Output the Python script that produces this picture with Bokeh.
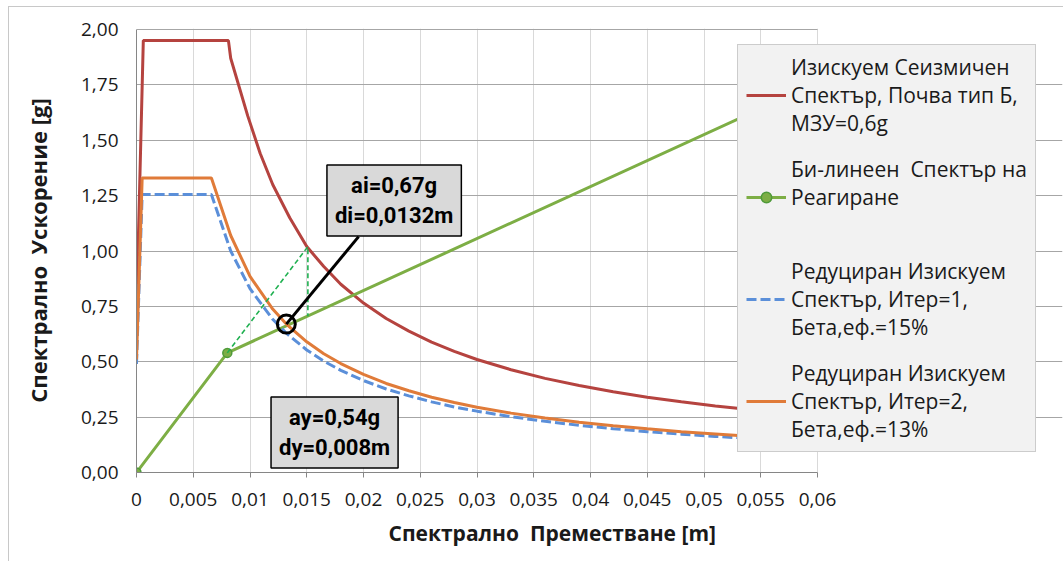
from bokeh.plotting import figure
from bokeh.models import Range1d, FixedTicker, Legend, LegendItem, Label, Title
from bokeh.embed import file_html
from bokeh.resources import INLINE

# ---- data ----
d_red = [0.0, 0.0006, 0.0081, 0.0083, 0.0098, 0.0109, 0.012, 0.0135, 0.015, 0.0165, 0.018, 0.020,
         0.022, 0.024, 0.026, 0.028, 0.030, 0.033, 0.036, 0.039, 0.042, 0.045, 0.048, 0.051, 0.054,
         0.057, 0.060]
a_red = [0.72, 1.95, 1.95, 1.87, 1.61, 1.44, 1.30, 1.15, 1.02, 0.93, 0.85, 0.765,
         0.695, 0.638, 0.589, 0.547, 0.510, 0.464, 0.425, 0.393, 0.365, 0.340, 0.319, 0.300, 0.284,
         0.269, 0.255]

d_bilin = [0.0, 0.008, 0.060]
a_bilin = [0.0, 0.54, 1.76]

d_red1 = [0.0, 0.0005, 0.0066, 0.0083, 0.010, 0.012, 0.0132, 0.015, 0.0165, 0.018, 0.020, 0.022,
          0.024, 0.026, 0.028, 0.030, 0.033, 0.036, 0.039, 0.042, 0.045, 0.048, 0.051, 0.054,
          0.057, 0.060]
a_red1 = [0.49, 1.255, 1.255, 1.00, 0.83, 0.692, 0.629, 0.553, 0.503, 0.461, 0.415, 0.377,
          0.346, 0.319, 0.296, 0.277, 0.252, 0.231, 0.213, 0.198, 0.184, 0.173, 0.163, 0.154,
          0.146, 0.138]

d_red2 = [0.0, 0.0005, 0.0066, 0.0083, 0.010, 0.012, 0.0132, 0.015, 0.0165, 0.018, 0.020, 0.022,
          0.024, 0.026, 0.028, 0.030, 0.033, 0.036, 0.039, 0.042, 0.045, 0.048, 0.051, 0.054,
          0.057, 0.060]
a_red2 = [0.51, 1.33, 1.33, 1.07, 0.885, 0.738, 0.67, 0.59, 0.536, 0.492, 0.443, 0.402,
          0.369, 0.340, 0.316, 0.295, 0.268, 0.246, 0.227, 0.211, 0.197, 0.184, 0.174, 0.164,
          0.155, 0.148]

# construction lines (elastic extension and vertical drop)
d_constr = [0.008, 0.0151, 0.0151]
a_constr = [0.54, 1.02, 0.705]

# yield and performance points
dy, ay = 0.008, 0.54
di, ai = 0.0132, 0.67

x_ticks = [0, 0.005, 0.01, 0.015, 0.02, 0.025, 0.03, 0.035, 0.04, 0.045, 0.05, 0.055, 0.06]
x_tick_labels = ["0", "0,005", "0,01", "0,015", "0,02", "0,025", "0,03", "0,035", "0,04",
                 "0,045", "0,05", "0,055", "0,06"]
y_ticks = [0, 0.25, 0.5, 0.75, 1.0, 1.25, 1.5, 1.75, 2.0]
y_tick_labels = ["0,00", "0,25", "0,50", "0,75", "1,00", "1,25", "1,50", "1,75", "2,00"]

series_labels = [
    "Изискуем Сеизмичен\nСпектър, Почва тип Б,\nМЗУ=0,6g",
    "Би-линеен\u00a0 Спектър на\nРеагиране\n\u00a0",
    "Редуциран Изискуем\nСпектър, Итер=1,\nБета,еф.=15%",
    "Редуциран Изискуем\nСпектър, Итер=2,\nБета,еф.=13%",
]
x_title = "Спектрално\u00a0 Преместване [m]"
y_title = "Спектрално\u00a0 Ускорение [g]"

FONT = "Open Sans"

# ---- layout (pixels) ----
OFF_X, OFF_Y = 9, 7                 # canvas offset caused by the outer border
W, H = 1064 - OFF_X, 562 - OFF_Y
FR_L, FR_R, FR_T, FR_B = 136, 1062, 28, 472   # frame in page pixels
X_AXIS_END_PX = 817                 # page x of the last x tick
Y_TOP_PX = 29                       # page y of the last y tick

x_end = x_ticks[-1] * (FR_R - FR_L) / (X_AXIS_END_PX - FR_L)
y_end = y_ticks[-1] * (FR_B - FR_T) / (FR_B - Y_TOP_PX)

p = figure(width=W, height=H, output_backend="svg", toolbar_location=None,
           x_range=Range1d(0, x_end), y_range=Range1d(0, y_end),
           min_border_left=FR_L - OFF_X, min_border_right=W - (FR_R - OFF_X),
           min_border_top=FR_T - OFF_Y, min_border_bottom=H - (FR_B - OFF_Y))
p.styles = {"margin-left": "8px", "margin-top": "6px",
            "border-left": "1px solid #c8c8c8", "border-top": "1px solid #c8c8c8"}
p.outline_line_color = None
p.background_fill_color = "white"
p.border_fill_color = "white"

# grids
p.xgrid.ticker = FixedTicker(ticks=x_ticks)
p.ygrid.ticker = FixedTicker(ticks=y_ticks[1:-1])
p.xgrid.grid_line_color = "#d9d9d9"
p.ygrid.grid_line_color = "#a6a6a6"
p.segment(x0=[x_ticks[0]], y0=[y_ticks[-1]], x1=[x_ticks[-1]], y1=[y_ticks[-1]],
          line_color="#a6a6a6", line_width=1)

# axes
p.xaxis.ticker = FixedTicker(ticks=x_ticks)
p.yaxis.ticker = FixedTicker(ticks=y_ticks)
p.xaxis.bounds = (x_ticks[0], x_ticks[-1])
p.yaxis.bounds = (y_ticks[0], y_ticks[-1])
p.xaxis.major_label_overrides = dict(zip(x_ticks, x_tick_labels))
p.yaxis.major_label_overrides = dict(zip(y_ticks, y_tick_labels))
for ax in (p.xaxis, p.yaxis):
    ax.axis_line_color = "#868686"
    ax.major_tick_line_color = "#868686"
    ax.minor_tick_line_color = None
    ax.major_label_text_font = FONT
    ax.major_label_text_font_size = "19px"
    ax.major_label_text_color = "#1a1a1a"
    ax.axis_label_text_font = FONT
    ax.axis_label_text_font_style = "bold"
    ax.axis_label_text_font_size = "22px"
    ax.axis_label_text_color = "#1a1a1a"
p.xaxis.major_tick_in = 0
p.xaxis.major_tick_out = 5
p.yaxis.major_tick_in = 0
p.yaxis.major_tick_out = 0
p.xaxis.major_label_standoff = 15
p.yaxis.major_label_standoff = 18
p.yaxis.axis_label = y_title
p.yaxis.axis_label_standoff = 25

p.add_layout(Title(text=x_title, align="left", offset=388 - FR_L, text_font=FONT,
                   text_font_style="bold", text_font_size="21px", text_color="#1a1a1a",
                   standoff=16), "below")

# series
r_red = p.line(d_red, a_red, line_color="#b5433f", line_width=3)
r_green = p.line(d_bilin, a_bilin, line_color="#7dae45", line_width=3)
r_green_pts = p.scatter(d_bilin, a_bilin, size=9, fill_color="#7dae45", line_color="#4f9a3a",
                        line_width=1.5)
r_blue = p.line(d_red1, a_red1, line_color="#5b8fd9", line_width=3, line_dash="10 4")
r_orange = p.line(d_red2, a_red2, line_color="#e07b39", line_width=3)

# construction lines
p.line(d_constr, a_constr, line_color="#1fb050", line_width=1.6, line_dash="5 3")

# performance point and leader
p.line([di, 0.01957], [ai, 1.065], line_color="black", line_width=3)
p.scatter([di], [ai], size=18, fill_color=None, line_color="black", line_width=3)

# annotation labels
lab1 = Label(x=0.0227, y=1.228, text="ai=0,67g\ndi=0,0132m", text_align="center",
             text_baseline="middle", text_font="Roboto", text_font_style="bold",
             text_font_size="22px", text_color="black",
             background_fill_color="#d9d9d9", border_line_color="black", border_line_width=1.5,
             padding=8)
lab2 = Label(x=0.01745, y=0.181, text="ay=0,54g\ndy=0,008m", text_align="center",
             text_baseline="middle", text_font="Roboto", text_font_style="bold",
             text_font_size="22px", text_color="black",
             background_fill_color="#d9d9d9", border_line_color="black", border_line_width=1.5,
             padding=8)
p.add_layout(lab1)
p.add_layout(lab2)

# legend
items = [
    LegendItem(label=series_labels[0], renderers=[r_red]),
    LegendItem(label=series_labels[1], renderers=[r_green, r_green_pts]),
    LegendItem(label=series_labels[2], renderers=[r_blue]),
    LegendItem(label=series_labels[3], renderers=[r_orange]),
]
LEG_L, LEG_B = 737, 452
legend = Legend(items=items, location=(LEG_L - FR_L, FR_B - LEG_B))
legend.background_fill_color = "#f2f2f2"
legend.background_fill_alpha = 1.0
legend.border_line_color = "#a6a6a6"
legend.border_line_width = 1.5
legend.label_text_font = FONT
legend.label_text_font_size = "21px"
legend.label_text_color = "#1a1a1a"
legend.glyph_width = 40
legend.glyph_height = 26
legend.label_standoff = 5
legend.padding = 8
legend.spacing = 18
legend.margin = 0
p.add_layout(legend, "center")

open("out.html", "w").write(file_html(p, INLINE))
